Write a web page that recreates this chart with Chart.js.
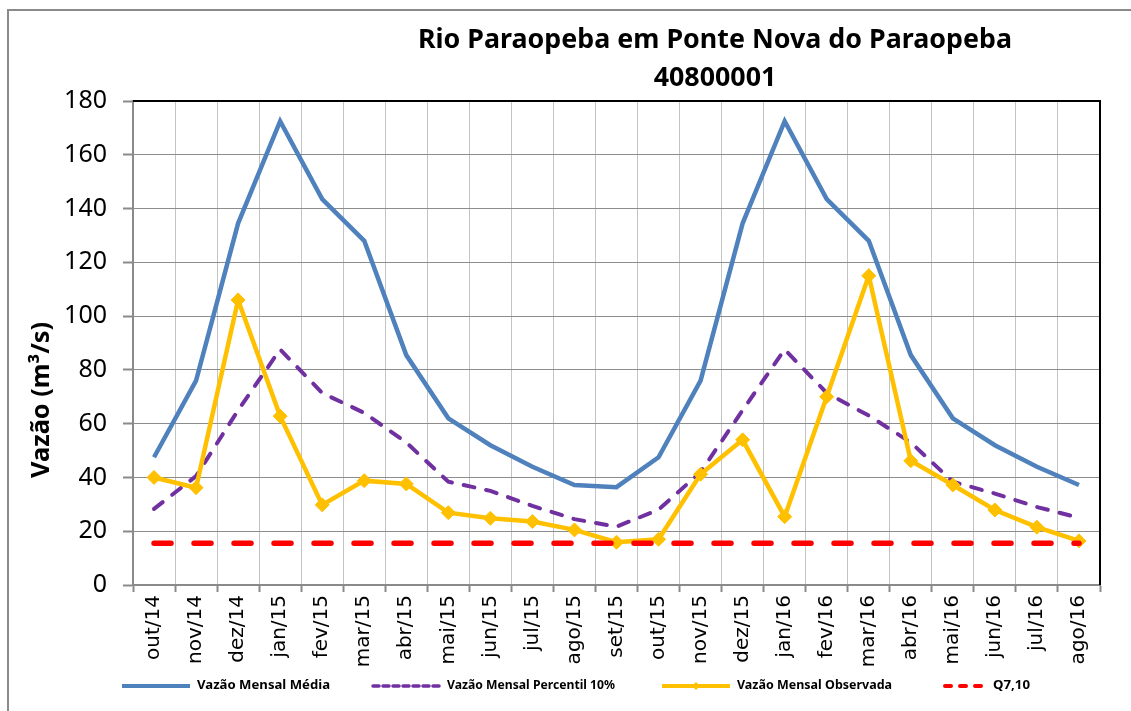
<!DOCTYPE html>
<html>
<head>
<meta charset="utf-8">
<script src="https://cdn.jsdelivr.net/npm/chart.js@4.4.1/dist/chart.umd.min.js"></script>
<style>
  html, body { margin: 0; padding: 0; background: #fff; }
  #c { display: block; }
</style>
</head>
<body>
<canvas id="c" width="1131" height="711"></canvas>
<script>
// dados
const categories = ['out/14', 'nov/14', 'dez/14', 'jan/15', 'fev/15', 'mar/15', 'abr/15', 'mai/15',
  'jun/15', 'jul/15', 'ago/15', 'set/15', 'out/15', 'nov/15', 'dez/15', 'jan/16', 'fev/16',
  'mar/16', 'abr/16', 'mai/16', 'jun/16', 'jul/16', 'ago/16'];
const vazaoMedia = [47.5, 76, 134.5, 172.5, 143.5, 128, 85.5, 62, 52, 44, 37.2, 36.4,
  47.5, 76, 134.5, 172.5, 143.5, 128, 85.5, 62, 52, 44, 37.2];
const vazaoPercentil10 = [28.3, 40.5, 65, 87.6, 71.4, 64, 53, 38.4, 35, 29.4, 24.5, 21.7,
  28, 42, 65, 87.6, 71.4, 63, 53, 38.4, 34, 29, 25];
const vazaoObservada = [40, 36.2, 106, 62.8, 29.8, 38.8, 37.6, 26.9, 24.8, 23.6, 20.5, 15.9,
  17, 41.2, 54, 25.4, 70, 115, 46.2, 37.2, 27.9, 21.5, 16.4];
const q710 = [15.5, 15.5, 15.5, 15.5, 15.5, 15.5, 15.5, 15.5, 15.5, 15.5, 15.5, 15.5,
  15.5, 15.5, 15.5, 15.5, 15.5, 15.5, 15.5, 15.5, 15.5, 15.5, 15.5];
const yTicks = [0, 20, 40, 60, 80, 100, 120, 140, 160, 180];

const titleLines = ['Rio Paraopeba em Ponte Nova do Paraopeba', '40800001'];
const yTitle = 'Vazão (m³/s)';

// escreve texto encolhido/esticado até a largura pedida
function fitText(ctx, text, x, y, width, font) {
  ctx.save();
  ctx.font = font;
  const w = ctx.measureText(text).width;
  const k = width / w;
  ctx.translate(x, y);
  ctx.scale(k, 1);
  ctx.textAlign = 'center';
  ctx.textBaseline = 'middle';
  ctx.fillText(text, 0, 0);
  ctx.restore();
  return k;
}

const decor = {
  id: 'decor',
  afterDraw(chart) {
    const ctx = chart.ctx;
    const a = chart.chartArea;
    ctx.save();
    // moldura externa
    ctx.strokeStyle = '#8a8a8a';
    ctx.lineWidth = 2;
    ctx.beginPath();
    ctx.moveTo(8, 711);
    ctx.lineTo(8, 10);
    ctx.lineTo(1131, 10);
    ctx.stroke();
    // borda superior e direita da área de plotagem
    ctx.strokeStyle = '#000';
    ctx.lineWidth = 2;
    ctx.beginPath();
    ctx.moveTo(a.left, a.top);
    ctx.lineTo(a.right, a.top);
    ctx.lineTo(a.right, a.bottom);
    ctx.stroke();

    // título
    ctx.fillStyle = '#000';
    ctx.font = 'bold 27px "Noto Sans"';
    const k = 594 / ctx.measureText(titleLines[0]).width;
    [40, 78].forEach((ty, i) => {
      ctx.save();
      ctx.translate(715, ty);
      ctx.scale(k, 1);
      ctx.textAlign = 'center';
      ctx.textBaseline = 'middle';
      ctx.fillText(titleLines[i], 0, 0);
      ctx.restore();
    });

    // título do eixo Y
    ctx.save();
    ctx.translate(42, 400);
    ctx.rotate(-Math.PI / 2);
    fitText(ctx, yTitle, 0, 0, 156, 'bold 25px "Noto Sans"');
    ctx.restore();

    // legenda
    const ly = 686;
    const items = [
      { ds: 0, x0: 122, x1: 190, tx: 197, tw: 133 },
      { ds: 1, x0: 373, x1: 440, tx: 447, tw: 168 },
      { ds: 2, x0: 662, x1: 730, tx: 737, tw: 155 },
      { ds: 3, x0: 945, x1: 988, tx: 993, tw: 37 }
    ];
    items.forEach(it => {
      const d = chart.data.datasets[it.ds];
      ctx.save();
      ctx.strokeStyle = d.borderColor;
      ctx.lineWidth = d.legendWidth;
      ctx.lineCap = d.borderCapStyle || 'butt';
      ctx.setLineDash(d.legendDash || []);
      ctx.beginPath();
      ctx.moveTo(it.x0, ly);
      ctx.lineTo(it.x1, ly);
      ctx.stroke();
      if (d.pointRadius > 0) {
        const cx = (it.x0 + it.x1) / 2;
        ctx.setLineDash([]);
        ctx.fillStyle = d.borderColor;
        ctx.beginPath();
        ctx.moveTo(cx, ly - 4);
        ctx.lineTo(cx + 4, ly);
        ctx.lineTo(cx, ly + 4);
        ctx.lineTo(cx - 4, ly);
        ctx.closePath();
        ctx.fill();
      }
      ctx.restore();
      ctx.fillStyle = '#000';
      ctx.font = 'bold 12px "Noto Sans"';
      const w = ctx.measureText(d.label).width;
      ctx.save();
      ctx.translate(it.tx, ly);
      ctx.scale(it.tw / w, 1);
      ctx.textAlign = 'left';
      ctx.textBaseline = 'middle';
      ctx.fillText(d.label, 0, 0);
      ctx.restore();
    });
    ctx.restore();
  }
};

new Chart(document.getElementById('c'), {
  type: 'line',
  data: {
    labels: categories,
    datasets: [
      {
        label: 'Vazão Mensal Média',
        data: vazaoMedia,
        borderColor: '#4F81BD',
        borderWidth: 4.5,
        legendWidth: 4,
        pointRadius: 0,
        borderJoinStyle: 'miter',
        order: 4
      },
      {
        label: 'Vazão Mensal Percentil 10%',
        data: vazaoPercentil10,
        borderColor: '#7030A0',
        borderWidth: 4,
        legendWidth: 3.5,
        borderDash: [11, 12],
        legendDash: [6, 4],
        borderCapStyle: 'round',
        pointRadius: 0,
        order: 3
      },
      {
        label: 'Vazão Mensal Observada',
        data: vazaoObservada,
        borderColor: '#FFC000',
        backgroundColor: '#FFC000',
        borderWidth: 4.5,
        legendWidth: 4,
        pointStyle: 'rectRot',
        pointRadius: 7,
        pointBorderWidth: 1,
        pointBackgroundColor: '#FFC000',
        pointBorderColor: '#FFC000',
        order: 2
      },
      {
        label: 'Q7,10',
        data: q710,
        borderColor: '#FF0000',
        borderWidth: 5.5,
        legendWidth: 4,
        borderDash: [17, 23],
        legendDash: [6, 9],
        borderCapStyle: 'round',
        pointRadius: 0,
        order: 1
      }
    ]
  },
  options: {
    responsive: false,
    devicePixelRatio: 1,
    animation: false,
    layout: { padding: { top: 101, right: 31, left: 0, bottom: 0 } },
    plugins: {
      legend: { display: false },
      title: { display: false },
      tooltip: { enabled: false }
    },
    scales: {
      x: {
        type: 'category',
        offset: true,
        afterFit(s) { s.height = 126; },
        border: { color: '#8a8a8a', width: 2 },
        grid: {
          offset: true,
          color: '#c4c4c4',
          lineWidth: 1,
          borderDash: [3, 3],
          tickBorderDash: [],
          tickColor: '#8a8a8a',
          tickLength: 7,
          tickWidth: 2
        },
        ticks: {
          autoSkip: false,
          maxRotation: 90,
          minRotation: 90,
          padding: 3,
          color: '#000',
          font: { family: '"DejaVu Sans"', size: 20 }
        }
      },
      y: {
        min: 0,
        max: 180,
        afterFit(s) { s.width = 133; },
        afterBuildTicks(s) { s.ticks = yTicks.map(v => ({ value: v })); },
        border: { color: '#8a8a8a', width: 2 },
        grid: {
          color: '#8c8c8c',
          lineWidth: 1,
          borderDash: [2, 2],
          tickBorderDash: [],
          tickColor: '#8a8a8a',
          tickLength: 10,
          tickWidth: 2
        },
        ticks: {
          padding: 16,
          color: '#000',
          font: { family: '"Noto Sans"', size: 25 }
        }
      }
    }
  },
  plugins: [decor]
});
</script>
</body>
</html>
